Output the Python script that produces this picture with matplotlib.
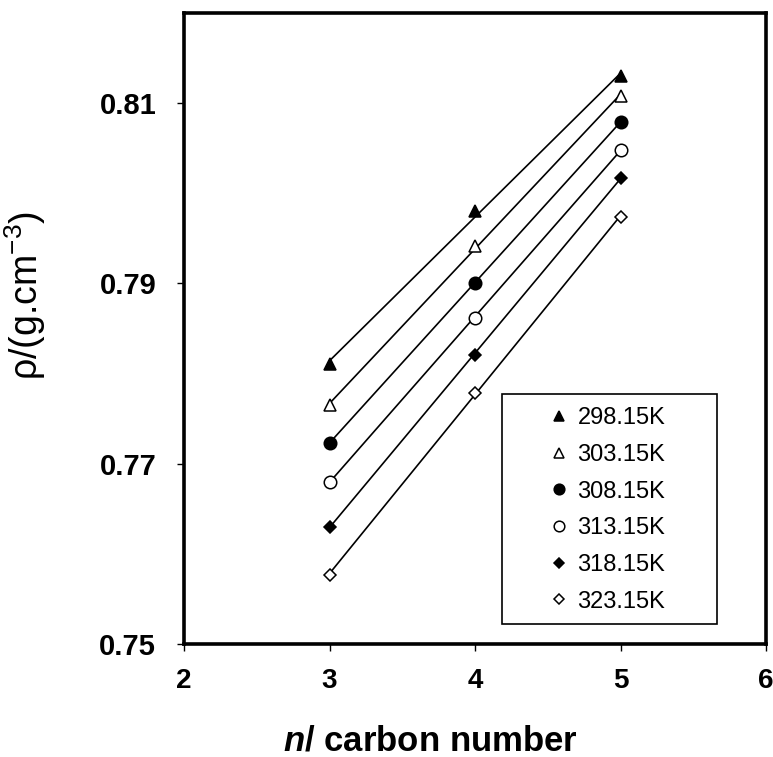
import matplotlib
matplotlib.use('Agg')
import matplotlib.pyplot as plt
from matplotlib.patches import Rectangle
import numpy as np

plt.rcParams['font.family'] = ['Liberation Sans', 'DejaVu Sans']
plt.rcParams['mathtext.fontset'] = 'custom'
plt.rcParams['mathtext.rm'] = 'Liberation Sans'
plt.rcParams['mathtext.it'] = 'Liberation Sans:italic:bold'

carbon_number = [3, 4, 5]
temps = ['298.15K', '303.15K', '308.15K', '313.15K', '318.15K', '323.15K']
rho_298 = [0.7811, 0.7980, 0.8130]
rho_303 = [0.7765, 0.7942, 0.8108]
rho_308 = [0.7723, 0.7901, 0.8079]
rho_313 = [0.7680, 0.7862, 0.8048]
rho_318 = [0.7630, 0.7821, 0.8017]
rho_323 = [0.7577, 0.7779, 0.7974]
series = [rho_298, rho_303, rho_308, rho_313, rho_318, rho_323]

styles = [('^', 'black', 9), ('^', 'white', 9), ('o', 'black', 9),
          ('o', 'white', 9), ('D', 'black', 6.5), ('D', 'white', 6.5)]

fig = plt.figure(figsize=(7.73, 7.57), dpi=100)
ax = fig.add_axes([184 / 773, 113 / 757, 582 / 773, 631 / 757])

x = np.array(carbon_number)
handles = []
for rho, (m, fc, ms), lab in zip(series, styles, temps):
    k, b = np.polyfit(x, rho, 1)
    ax.plot(x, k * x + b, color='black', linewidth=1.2, zorder=2)
    h, = ax.plot(x, rho, linestyle='none', marker=m, markersize=ms,
                 markerfacecolor=fc, markeredgecolor='black',
                 markeredgewidth=1.1, label=lab, zorder=3)
    handles.append(h)

ax.set_xlim(2, 6)
ax.set_ylim(0.75, 0.82)
ax.set_xticks([2, 3, 4, 5, 6])
ax.set_yticks([0.75, 0.77, 0.79, 0.81])
ax.set_yticklabels(['0.75', '0.77', '0.79', '0.81'])

for s in ax.spines.values():
    s.set_linewidth(2.6)
ax.tick_params(direction='out', length=5, width=1, labelsize=20)
ax.tick_params(axis='y', pad=15, labelsize=21)
ax.tick_params(axis='x', pad=12)
for t in ax.get_xticklabels() + ax.get_yticklabels():
    t.set_fontweight('bold')

ax.set_xlabel('$n$/ carbon number', fontsize=25, fontweight='bold')
ax.xaxis.label.set_va('baseline')
ax.xaxis.set_label_coords(0.424, -0.168)
ax.set_ylabel('ρ/(g.cm$^{-3}$)', fontsize=27)
ax.yaxis.set_label_coords(-0.233, 0.553)

# legend frame
ax.add_patch(Rectangle((0.546, 0.032), 0.37, 0.364, transform=ax.transAxes,
                       facecolor='white', edgecolor='black', linewidth=1.2,
                       zorder=4))
leg = ax.legend(handles=handles, loc='upper left', bbox_to_anchor=(0.599, 0.405),
                frameon=False, fontsize=17, handlelength=0.6, handletextpad=0.5,
                labelspacing=0.62, borderpad=0.3, markerscale=0.85)
leg.set_zorder(5)

fig.savefig('out.png', dpi=100)
